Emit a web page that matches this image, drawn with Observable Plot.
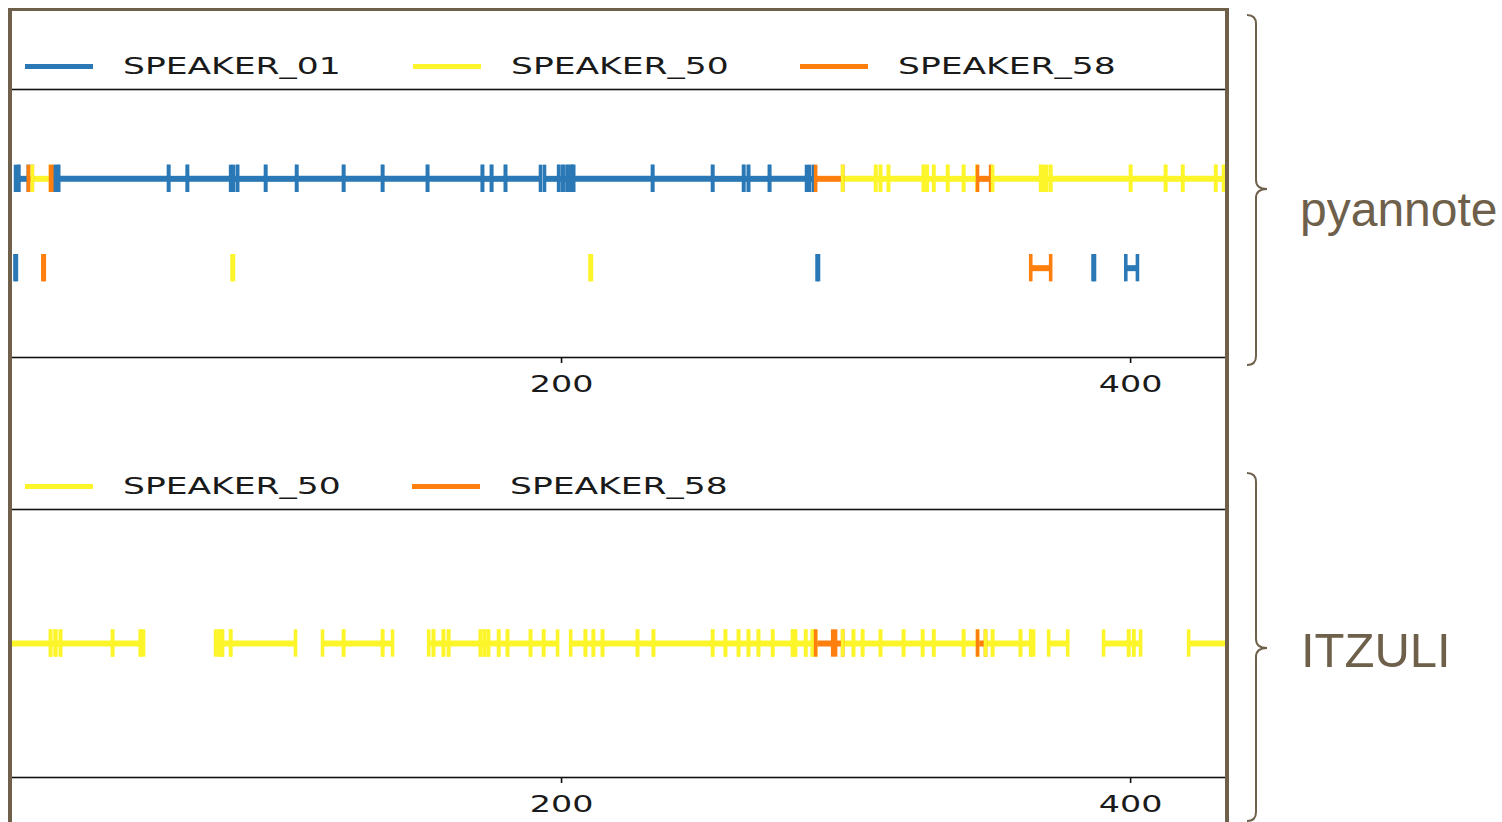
<!DOCTYPE html>
<html><head><meta charset="utf-8">
<script src="https://cdn.jsdelivr.net/npm/d3@7"></script>
<script src="https://cdn.jsdelivr.net/npm/@observablehq/plot@0.6"></script>
<style>
body{margin:0;background:#fff;}
#root{position:relative;width:1502px;height:822px;overflow:hidden;font-family:"DejaVu Sans",sans-serif;background:#fff;}
.panel{position:absolute;left:10px;}
.sw{position:absolute;height:5px;}
.lt{position:absolute;font-size:23px;line-height:23px;color:#1a1a1a;white-space:nowrap;transform:scaleX(1.5);transform-origin:0 50%;}
#border{position:absolute;left:8px;top:8px;width:1213px;height:900px;border-style:solid;border-color:#6e604a;border-width:3px 4px 3px 4px;z-index:5;}
#over{position:absolute;left:0;top:0;z-index:6;}
</style></head><body><div id="root"><div id="border"></div></div>
<script>
// ---- data ----
const speakers = ["SPEAKER_01", "SPEAKER_50", "SPEAKER_58"];
const speakerColors = ["#2a78b5", "#fcf52a", "#ff7f0e"];
const xTicks = [200, 400];
const xDomain = [6.33, 433.7];
const panelNames = ["pyannote", "ITZULI"];
const pyannoteLegend = ["SPEAKER_01", "SPEAKER_50", "SPEAKER_58"];
const itzuliLegend = ["SPEAKER_50", "SPEAKER_58"];

// segments: [start (s), end (s), speaker]
const pyannoteTrack1 = [
  [8.1, 9.2, "SPEAKER_01"], [9.2, 12.6, "SPEAKER_01"], [12.6, 14.0, "SPEAKER_58"],
  [14.0, 20.4, "SPEAKER_50"], [20.4, 21.4, "SPEAKER_58"], [22.1, 23.2, "SPEAKER_01"],
  [23.2, 61.9, "SPEAKER_01"], [61.9, 68.5, "SPEAKER_01"], [68.5, 83.7, "SPEAKER_01"],
  [84.6, 86.1, "SPEAKER_01"], [86.1, 96.0, "SPEAKER_01"], [96.0, 106.9, "SPEAKER_01"],
  [106.9, 123.4, "SPEAKER_01"], [123.4, 137.1, "SPEAKER_01"], [137.1, 152.9, "SPEAKER_01"],
  [152.9, 172.2, "SPEAKER_01"], [172.2, 175.4, "SPEAKER_01"], [175.4, 180.3, "SPEAKER_01"],
  [180.3, 192.6, "SPEAKER_01"], [194.0, 199.0, "SPEAKER_01"], [199.0, 200.5, "SPEAKER_01"],
  [200.5, 202.0, "SPEAKER_01"], [202.0, 203.3, "SPEAKER_01"], [203.3, 204.2, "SPEAKER_01"],
  [204.2, 232.0, "SPEAKER_01"], [232.0, 253.1, "SPEAKER_01"], [253.1, 264.0, "SPEAKER_01"],
  [264.0, 265.7, "SPEAKER_01"], [265.7, 273.1, "SPEAKER_01"], [273.1, 286.1, "SPEAKER_01"],
  [287.2, 288.6, "SPEAKER_01"], [289.3, 298.8, "SPEAKER_58"],
  [298.8, 310.4, "SPEAKER_50"], [310.4, 312.1, "SPEAKER_50"], [312.1, 314.9, "SPEAKER_50"],
  [314.9, 327.2, "SPEAKER_50"], [327.2, 328.5, "SPEAKER_50"], [328.5, 330.8, "SPEAKER_50"],
  [330.8, 335.7, "SPEAKER_50"], [335.7, 341.3, "SPEAKER_50"], [341.3, 346.0, "SPEAKER_50"],
  [346.2, 350.8, "SPEAKER_58"], [351.5, 368.4, "SPEAKER_50"], [368.4, 369.5, "SPEAKER_50"],
  [370.5, 371.9, "SPEAKER_50"], [371.9, 400.0, "SPEAKER_50"], [400.0, 412.3, "SPEAKER_50"],
  [412.3, 418.3, "SPEAKER_50"], [418.3, 429.9, "SPEAKER_50"], [429.9, 432.7, "SPEAKER_50"],
  [432.7, 445.0, "SPEAKER_50"]
];
const pyannoteTrack2 = [
  [7.9, 8.4, "SPEAKER_01"], [17.7, 18.2, "SPEAKER_58"], [84.2, 84.7, "SPEAKER_50"],
  [210.0, 210.5, "SPEAKER_50"], [289.8, 290.3, "SPEAKER_01"], [364.9, 371.9, "SPEAKER_58"],
  [386.8, 387.3, "SPEAKER_01"], [398.3, 402.4, "SPEAKER_01"]
];
const itzuliTrack1 = [
  [6.0, 20.4, "SPEAKER_50"], [20.4, 22.0, "SPEAKER_50"], [22.3, 23.9, "SPEAKER_50"],
  [23.9, 42.2, "SPEAKER_50"], [42.2, 52.0, "SPEAKER_50"], [52.0, 53.1, "SPEAKER_50"],
  [78.4, 79.6, "SPEAKER_50"], [79.9, 80.8, "SPEAKER_50"], [80.8, 83.7, "SPEAKER_50"],
  [83.7, 106.5, "SPEAKER_50"], [116.0, 123.4, "SPEAKER_50"], [123.4, 137.1, "SPEAKER_50"],
  [137.1, 140.6, "SPEAKER_50"], [153.3, 155.0, "SPEAKER_50"], [155.0, 158.5, "SPEAKER_50"],
  [158.5, 160.3, "SPEAKER_50"], [160.3, 171.5, "SPEAKER_50"], [171.5, 172.9, "SPEAKER_50"],
  [172.9, 174.3, "SPEAKER_50"], [174.3, 177.9, "SPEAKER_50"], [177.9, 181.0, "SPEAKER_50"],
  [181.0, 189.1, "SPEAKER_50"], [189.1, 193.7, "SPEAKER_50"], [193.7, 198.6, "SPEAKER_50"],
  [203.2, 208.4, "SPEAKER_50"], [208.4, 211.2, "SPEAKER_50"], [211.2, 214.4, "SPEAKER_50"],
  [214.4, 226.7, "SPEAKER_50"], [226.7, 232.3, "SPEAKER_50"], [232.3, 253.1, "SPEAKER_50"],
  [253.1, 257.6, "SPEAKER_50"], [257.6, 262.2, "SPEAKER_50"], [262.2, 265.7, "SPEAKER_50"],
  [265.7, 269.2, "SPEAKER_50"], [269.2, 274.2, "SPEAKER_50"], [274.2, 281.2, "SPEAKER_50"],
  [281.2, 282.2, "SPEAKER_50"], [282.2, 285.8, "SPEAKER_50"], [285.8, 288.2, "SPEAKER_50"],
  [288.2, 289.3, "SPEAKER_50"], [289.3, 295.3, "SPEAKER_58"], [296.3, 298.8, "SPEAKER_58"],
  [298.8, 302.6, "SPEAKER_50"], [302.6, 305.8, "SPEAKER_50"], [305.8, 312.1, "SPEAKER_50"],
  [312.1, 320.2, "SPEAKER_50"], [320.2, 326.9, "SPEAKER_50"], [326.9, 330.8, "SPEAKER_50"],
  [330.8, 341.3, "SPEAKER_50"], [341.3, 346.2, "SPEAKER_50"], [346.2, 349.0, "SPEAKER_58"],
  [349.0, 351.5, "SPEAKER_50"], [351.5, 361.3, "SPEAKER_50"], [361.3, 364.9, "SPEAKER_50"],
  [364.9, 365.9, "SPEAKER_50"], [371.2, 377.9, "SPEAKER_50"], [390.5, 399.3, "SPEAKER_50"],
  [399.3, 401.1, "SPEAKER_50"], [401.1, 403.5, "SPEAKER_50"], [420.4, 445.0, "SPEAKER_50"]
];

// ---- drawing ----
const root = document.getElementById("root");
const BROWN = "#6e604a";

function panel(tracks, top) {
  const n = tracks.length;
  const rows = tracks.flatMap((t, i) => t.map(([start, end, speaker]) => ({start, end, speaker, y: 1 - (i + 1) / (n + 1)})));
  const bounds = rows.flatMap(d => [{x: d.start, y: d.y, speaker: d.speaker}, {x: d.end, y: d.y, speaker: d.speaker}]);
  const svg = Plot.plot({
    width: 1216, height: 268 + 50,
    marginLeft: 0, marginRight: 0, marginTop: 0, marginBottom: 50,
    style: {fontFamily: "DejaVu Sans", fontSize: "23px", color: "#1a1a1a", background: "transparent", overflow: "visible"},
    x: {domain: xDomain},
    y: {domain: [0, 1], axis: null},
    color: {domain: speakers, range: speakerColors},
    marks: [
      Plot.ruleY(rows, {x1: "start", x2: "end", y: "y", stroke: "speaker", strokeWidth: 6, clip: true}),
      Plot.ruleX(bounds, {x: "x", y1: d => d.y - 0.051, y2: d => d.y + 0.051, stroke: "speaker", strokeWidth: 3.6, clip: true}),
      Plot.frame({stroke: "#111", strokeWidth: 1.6}),
      Plot.axisX({ticks: xTicks, tickSize: 6, tickPadding: 12.5, label: null, fontSize: 23, stroke: "#111", strokeWidth: 1.6})
    ]
  });
  svg.classList.add("panel");
  svg.style.top = top + "px";
  svg.querySelectorAll('g[aria-label="x-axis tick label"] text').forEach(t => {
    t.setAttribute("transform", (t.getAttribute("transform") || "") + " scale(1.45,1)");
  });
  root.appendChild(svg);
}

function legend(items, y, xs) {
  items.forEach((name, i) => {
    const c = speakerColors[speakers.indexOf(name)];
    const sw = document.createElement("div");
    sw.className = "sw";
    sw.style.left = xs[i] + "px"; sw.style.top = (y - 2.5) + "px"; sw.style.width = "68px"; sw.style.background = c;
    root.appendChild(sw);
    const t = document.createElement("div");
    t.className = "lt"; t.textContent = name;
    t.style.left = (xs[i] + 98) + "px"; t.style.top = (y - 11) + "px";
    root.appendChild(t);
  });
}

panel([pyannoteTrack1, pyannoteTrack2], 89);
panel([itzuliTrack1], 509);
legend(pyannoteLegend, 66, [25, 413, 800]);
legend(itzuliLegend, 486, [25, 412]);

// right-side braces and labels
const over = d3.select(root).append("svg").attr("id", "over").attr("width", 1502).attr("height", 822);
function brace(y0, y1, ym) {
  const x0 = 1247, xv = 1256, xp = 1267, r = 9;
  over.append("path")
    .attr("d", `M${x0},${y0} Q${xv},${y0} ${xv},${y0 + r} L${xv},${ym - r} Q${xv},${ym} ${xp},${ym} Q${xv},${ym} ${xv},${ym + r} L${xv},${y1 - r} Q${xv},${y1} ${x0},${y1}`)
    .attr("fill", "none").attr("stroke", BROWN).attr("stroke-width", 2);
}
brace(15, 365, 189);
brace(473, 821, 648);
over.append("text").attr("x", 1300).attr("y", 226).attr("font-family", "Liberation Sans").attr("font-size", 48).attr("fill", BROWN).text(panelNames[0]);
over.append("text").attr("x", 1301).attr("y", 667).attr("font-family", "Liberation Sans").attr("font-size", 49).attr("fill", BROWN).text(panelNames[1]);
</script></body></html>
